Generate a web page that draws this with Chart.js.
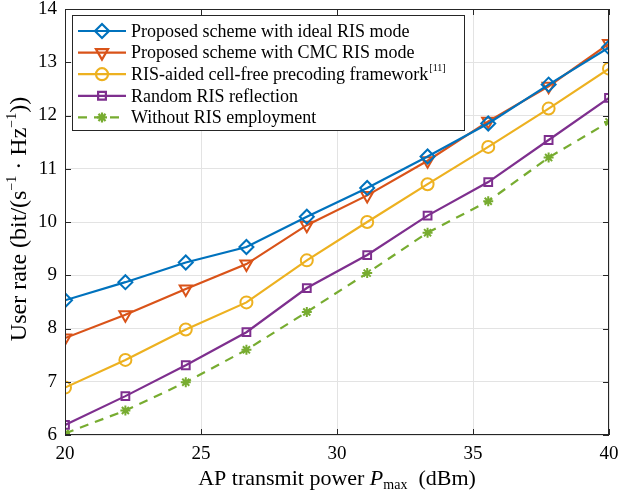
<!DOCTYPE html>
<html>
<head>
<meta charset="utf-8">
<script src="https://cdn.jsdelivr.net/npm/chart.js@4.4.0/dist/chart.umd.min.js"></script>
<style>
  html, body { margin: 0; padding: 0; background: #fff; }
  #wrap { width: 619px; height: 501px; }
</style>
</head>
<body>
<div id="wrap"><canvas id="rateChart" width="619" height="501"></canvas></div>
<script>
// transmit power points (dBm)
const powers = [20, 22.22, 24.44, 26.67, 28.89, 31.11, 33.33, 35.56, 37.78, 40];
const idealRis  = [8.53, 8.87, 9.24, 9.53, 10.1, 10.64, 11.23, 11.85, 12.58, 13.28];
const cmcRis    = [7.82, 8.26, 8.74, 9.21, 9.94, 10.5, 11.15, 11.89, 12.55, 13.35];
const cellFree  = [6.89, 7.41, 7.98, 8.49, 9.28, 10.0, 10.71, 11.41, 12.13, 12.88];
const randomRis = [6.19, 6.73, 7.31, 7.93, 8.76, 9.38, 10.12, 10.75, 11.54, 12.33];
const noRis     = [6.03, 6.46, 6.99, 7.6, 8.31, 9.04, 9.8, 10.39, 11.21, 11.88];
const xTicks = [20, 25, 30, 35, 40];
const yTicks = [6, 7, 8, 9, 10, 11, 12, 13, 14];

const FONT = '"Liberation Serif", "Times New Roman", serif';
const AXIS = '#262626';

function pts(arr) {
  return arr.map((v, i) => ({ x: powers[i], y: v }));
}

const series = [
  { label: 'Proposed scheme with ideal RIS mode', data: idealRis, color: '#0072BD', style: 'rectRot', radius: 7, rot: 0 },
  { label: 'Proposed scheme with CMC RIS mode', data: cmcRis, color: '#D95319', style: 'triangle', radius: 7, rot: 180 },
  { label: 'RIS-aided cell-free precoding framework', sup: '[11]', data: cellFree, color: '#EDB120', style: 'circle', radius: 6, rot: 0 },
  { label: 'Random RIS reflection', data: randomRis, color: '#7E2F8E', style: 'rect', radius: 5.5, rot: 0 },
  { label: 'Without RIS employment', data: noRis, color: '#77AC30', style: 'star', radius: 5, rot: 0, dash: [9, 7] }
];

// box, inward ticks, legend and axis titles
const decorPlugin = {
  id: 'decor',
  afterDatasetsDraw(chart) {
    const ctx = chart.ctx;
    const a = chart.chartArea;
    const xs = chart.scales.x, ys = chart.scales.y;
    ctx.save();
    ctx.strokeStyle = AXIS;
    ctx.lineWidth = 1;
    ctx.strokeRect(a.left + 0.5, a.top + 0.5, a.right - a.left - 1, a.bottom - a.top - 1);
    ctx.beginPath();
    xTicks.forEach(t => {
      const px = Math.round(xs.getPixelForValue(t)) + 0.5;
      ctx.moveTo(px, a.bottom); ctx.lineTo(px, a.bottom - 6);
      ctx.moveTo(px, a.top); ctx.lineTo(px, a.top + 6);
    });
    yTicks.forEach(t => {
      const py = Math.round(ys.getPixelForValue(t)) + 0.5;
      ctx.moveTo(a.left, py); ctx.lineTo(a.left + 6, py);
      ctx.moveTo(a.right, py); ctx.lineTo(a.right - 6, py);
    });
    ctx.stroke();

    // legend
    const lx = 72, ly = 15, lw = 392, lh = 115;
    ctx.fillStyle = '#fff';
    ctx.fillRect(lx, ly, lw, lh);
    ctx.strokeRect(lx + 0.5, ly + 0.5, lw, lh);
    series.forEach((s, i) => {
      const y = 31 + i * 21.6;
      ctx.strokeStyle = s.color;
      ctx.lineWidth = 2.2;
      ctx.setLineDash(s.dash || []);
      ctx.beginPath();
      ctx.moveTo(78, y); ctx.lineTo(126, y);
      ctx.stroke();
      ctx.setLineDash([]);
      ctx.fillStyle = s.style === 'star' ? s.color : 'rgba(0,0,0,0)';
      Chart.helpers.drawPoint(ctx, { pointStyle: s.style, rotation: s.rot, radius: s.radius, borderWidth: 2 }, 102, y);
      ctx.fillStyle = '#000';
      ctx.font = '18px ' + FONT;
      ctx.textBaseline = 'middle';
      ctx.textAlign = 'left';
      ctx.fillText(s.label, 131, y + 1);
      if (s.sup) {
        const w = ctx.measureText(s.label).width;
        ctx.font = '10px ' + FONT;
        ctx.fillText(s.sup, 131 + w + 1, y - 6);
      }
    });

    // x title
    ctx.fillStyle = '#000';
    ctx.textBaseline = 'alphabetic';
    ctx.textAlign = 'left';
    const parts = [
      { t: 'AP transmit power ', f: '22px ' + FONT, dy: 0 },
      { t: 'P', f: 'italic 22px ' + FONT, dy: 0 },
      { t: 'max', f: '14px ' + FONT, dy: 4 },
      { t: '  (dBm)', f: '22px ' + FONT, dy: 0 }
    ];
    let total = 0;
    parts.forEach(p => { ctx.font = p.f; p.w = ctx.measureText(p.t).width; total += p.w; });
    let cx = (a.left + a.right) / 2 - total / 2;
    parts.forEach(p => { ctx.font = p.f; ctx.fillText(p.t, cx, 485 + p.dy); cx += p.w; });

    // y title
    ctx.translate(26, 219);
    ctx.rotate(-Math.PI / 2);
    const yparts = [
      { t: 'User rate (bit/(s', f: '24px ' + FONT, dy: 0 },
      { t: '\u22121', f: '14px ' + FONT, dy: -10 },
      { t: ' \u00b7 Hz', f: '24px ' + FONT, dy: 0 },
      { t: '\u22121', f: '14px ' + FONT, dy: -10 },
      { t: '))', f: '24px ' + FONT, dy: 0 }
    ];
    total = 0;
    yparts.forEach(p => { ctx.font = p.f; p.w = ctx.measureText(p.t).width; total += p.w; });
    cx = -total / 2;
    yparts.forEach(p => { ctx.font = p.f; ctx.fillText(p.t, cx, 0 + p.dy); cx += p.w; });
    ctx.restore();
  }
};

const ctx = document.getElementById('rateChart').getContext('2d');

const rateChart = new Chart(ctx, {
  type: 'line',
  data: {
    datasets: series.map(s => ({
      label: s.label,
      data: pts(s.data),
      borderColor: s.color,
      backgroundColor: s.style === 'star' ? s.color : 'rgba(0,0,0,0)',
      borderWidth: 2.2,
      borderDash: s.dash || [],
      pointStyle: s.style,
      pointRotation: s.rot,
      pointRadius: s.radius,
      pointBorderWidth: 2,
      pointBorderColor: s.color,
      pointBackgroundColor: s.style === 'star' ? s.color : 'rgba(0,0,0,0)',
      tension: 0
    }))
  },
  options: {
    responsive: false,
    animation: false,
    layout: { padding: { top: 7, right: 10, left: 0, bottom: 0 } },
    plugins: {
      legend: { display: false },
      tooltip: { enabled: false }
    },
    scales: {
      x: {
        type: 'linear',
        min: 20, max: 40,
        afterFit: s => { s.height = 66; s.paddingLeft = 0; s.paddingRight = 0; },
        afterBuildTicks: s => { s.ticks = xTicks.map(v => ({ value: v })); },
        grid: { color: '#e3e3e3', drawTicks: false },
        border: { display: false },
        ticks: { padding: 8, color: '#000', font: { family: FONT, size: 19 }, maxRotation: 0 }
      },
      y: {
        min: 6, max: 14,
        afterFit: s => { s.width = 65; s.paddingTop = 0; s.paddingBottom = 0; },
        afterBuildTicks: s => { s.ticks = yTicks.map(v => ({ value: v })); },
        grid: { color: '#e3e3e3', drawTicks: false },
        border: { display: false },
        ticks: { padding: 8, color: '#000', font: { family: FONT, size: 19 } }
      }
    }
  },
  plugins: [decorPlugin]
});
</script>
</body>
</html>
